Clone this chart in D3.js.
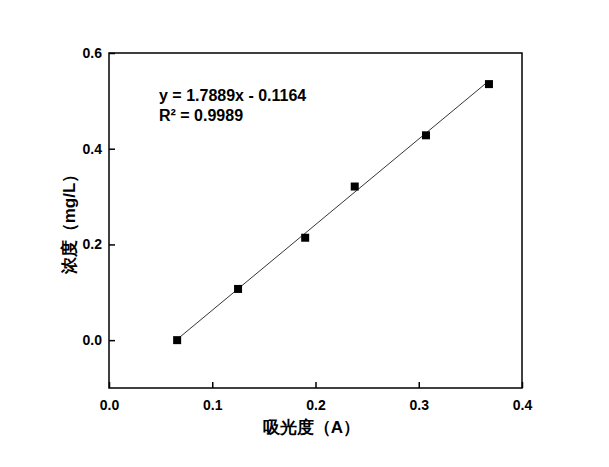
<!DOCTYPE html>
<html>
<head>
<meta charset="utf-8">
<script src="https://cdn.jsdelivr.net/npm/d3@7"></script>
<style>
  body { margin: 0; background: #fff; }
  text { font-family: "Liberation Sans", Arial, sans-serif; font-weight: bold; fill: #000; }
</style>
</head>
<body>
<div id="chart"></div>
<script>
// absorbance vs concentration
var absorbance = [0.066, 0.125, 0.190, 0.238, 0.307, 0.368];
var concentration = [0.000, 0.107, 0.214, 0.321, 0.428, 0.535];
var xTicks = [0.0, 0.1, 0.2, 0.3, 0.4];
var yTicks = [0.0, 0.2, 0.4, 0.6];
var slope = 1.7889, intercept = -0.1164;
var eqLines = ["y = 1.7889x - 0.1164", "R\u00b2 = 0.9989"];

var width = 609, height = 467;
var plotLeft = 109, plotRight = 522, plotTop = 53, plotBottom = 388;

var svg = d3.select("#chart").append("svg")
	.attr("width", width)
	.attr("height", height);

var x = d3.scaleLinear().domain([0, 0.4]).range([plotLeft, plotRight]);
var y = d3.scaleLinear().domain([-0.1, 0.6]).range([plotBottom, plotTop]);

// frame
svg.append("rect")
	.attr("x", plotLeft).attr("y", plotTop)
	.attr("width", plotRight - plotLeft).attr("height", plotBottom - plotTop)
	.attr("fill", "none").attr("stroke", "#000").attr("stroke-width", 1.5);

// ticks point inward
var xAxis = svg.append("g")
	.attr("transform", "translate(0," + plotBottom + ")")
	.call(d3.axisBottom(x).tickValues(xTicks).tickSizeInner(-6).tickSizeOuter(0).tickPadding(12)
		.tickFormat(d3.format(".1f")));
var yAxis = svg.append("g")
	.attr("transform", "translate(" + plotLeft + ",0)")
	.call(d3.axisLeft(y).tickValues(yTicks).tickSizeInner(-6).tickSizeOuter(0).tickPadding(7)
		.tickFormat(d3.format(".1f")));

[xAxis, yAxis].forEach(function(ax) {
	ax.select(".domain").remove();
	ax.selectAll("line").attr("stroke", "#000").attr("stroke-width", 1.5);
	ax.selectAll("text").style("font-size", "14px").attr("font-family", null);
});

// fit line
var x0 = d3.min(absorbance), x1 = d3.max(absorbance);
svg.append("line")
	.attr("x1", x(x0)).attr("y1", y(slope * x0 + intercept))
	.attr("x2", x(x1)).attr("y2", y(slope * x1 + intercept))
	.attr("stroke", "#000").attr("stroke-width", 0.8);

// points
var pts = absorbance.map(function(a, i) { return {a: a, c: concentration[i]}; });
svg.append("g").selectAll("rect")
	.data(pts).enter()
	.append("rect")
	.attr("x", function(d) { return x(d.a) - 4; })
	.attr("y", function(d) { return y(d.c) - 4; })
	.attr("width", 8).attr("height", 8)
	.attr("fill", "#000");

// equation
svg.append("g").selectAll("text")
	.data(eqLines).enter()
	.append("text")
	.attr("x", 159)
	.attr("y", function(d, i) { return 101 + i * 20; })
	.style("font-size", "16px")
	.text(function(d) { return d; });

// axis titles
svg.append("text")
	.attr("x", (plotLeft + plotRight) / 2 - 4).attr("y", 433)
	.attr("text-anchor", "middle")
	.style("font-size", "17px")
	.text("吸光度（A）");

svg.append("text")
	.attr("transform", "translate(75," + 220 + ") rotate(-90)")
	.attr("text-anchor", "middle")
	.style("font-size", "17px")
	.text("浓度（mg/L）");
</script>
</body>
</html>
